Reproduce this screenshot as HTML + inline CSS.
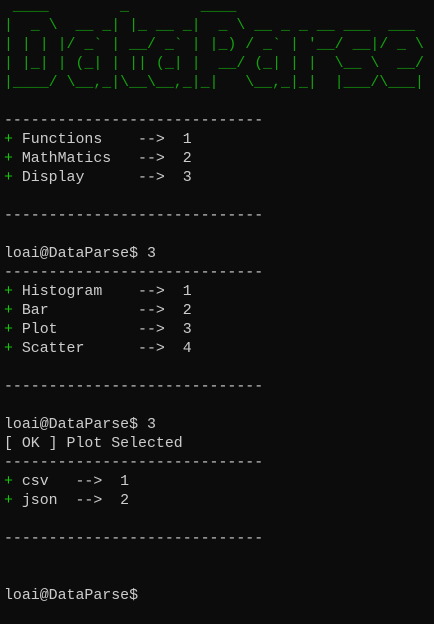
<!DOCTYPE html>
<html><head><meta charset="utf-8"><style>
html,body{margin:0;padding:0;background:#0c0c0c;width:434px;height:624px;overflow:hidden}
pre{margin:0;position:absolute;left:4px;top:-2.5px;font-family:"Liberation Mono",monospace;font-size:14.9px;line-height:19px;color:#cccccc;white-space:pre}
.g{color:#16c60c}
.a{color:#13a10e}
</style></head><body><pre><span class="a"> ____        _        ____
|  _ \  __ _| |_ __ _|  _ \ __ _ _ __ ___  ___
| | | |/ _` | __/ _` | |_) / _` | '__/ __|/ _ \
| |_| | (_| | || (_| |  __/ (_| | |  \__ \  __/
|____/ \__,_|\__\__,_|_|   \__,_|_|  |___/\___|</span>

-----------------------------
<span class="g">+</span> Functions    -->  1
<span class="g">+</span> MathMatics   -->  2
<span class="g">+</span> Display      -->  3

-----------------------------

loai@DataParse$ 3
-----------------------------
<span class="g">+</span> Histogram    -->  1
<span class="g">+</span> Bar          -->  2
<span class="g">+</span> Plot         -->  3
<span class="g">+</span> Scatter      -->  4

-----------------------------

loai@DataParse$ 3
[ OK ] Plot Selected
-----------------------------
<span class="g">+</span> csv   -->  1
<span class="g">+</span> json  -->  2

-----------------------------


loai@DataParse$</pre></body></html>
